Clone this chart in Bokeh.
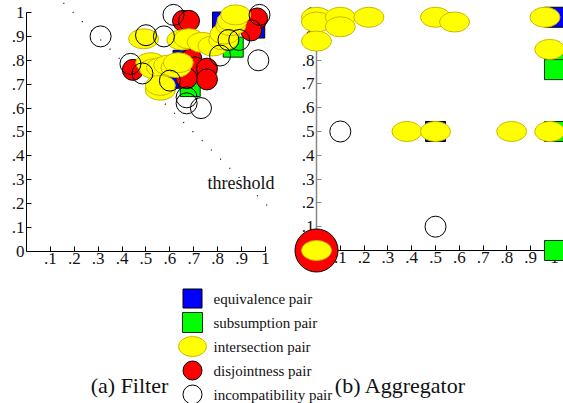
from bokeh.plotting import figure
from bokeh.models import Range1d, LinearAxis, FixedTicker, Label
from bokeh.layouts import column, row
from bokeh.embed import file_html
from bokeh.resources import INLINE

# ---------------- data: (a) Filter ----------------
equiv_a_x = [0.82, 0.955, 0.655, 0.625]
equiv_a_y = [0.96, 0.935, 0.80, 0.725]
subs_a_x = [0.685, 0.865]
subs_a_y = [0.69, 0.855]
inter_a_x = [0.49, 0.52, 0.535, 0.565, 0.595, 0.625, 0.635, 0.56, 0.56, 0.65, 0.68,
             0.735, 0.78, 0.825, 0.83, 0.855, 0.86, 0.875]
inter_a_y = [0.89, 0.79, 0.765, 0.77, 0.78, 0.77, 0.79, 0.675, 0.695, 0.885, 0.89,
             0.875, 0.86, 0.885, 0.91, 0.945, 0.965, 0.99]
disj_a_x = [0.445, 0.655, 0.68, 0.69, 0.705, 0.755, 0.755, 0.67, 0.945, 0.965, 0.94]
disj_a_y = [0.76, 0.965, 0.965, 0.805, 0.77, 0.765, 0.72, 0.725, 0.95, 0.975, 0.925]
incomp_a_x = [0.31, 0.435, 0.485, 0.50, 0.575, 0.615, 0.60, 0.67, 0.67, 0.73, 0.81,
              0.845, 0.89, 0.975, 0.97]
incomp_a_y = [0.90, 0.785, 0.745, 0.905, 0.90, 0.99, 0.715, 0.645, 0.62, 0.60, 0.82,
              0.885, 0.885, 0.99, 0.80]
threshold_x = [0.155, 1.04]
threshold_y = [1.04, 0.16]

# ---------------- data: (b) Aggregator ----------------
equiv_b_x = [1.0, 0.5]
equiv_b_y = [0.98, 0.5]
subs_b_x = [1.0, 1.0, 1.0, 1.0]
subs_b_y = [0.78, 0.76, 0.5, 0.0]
inter_b_x = [0.0, 0.0, 0.1, 0.1, 0.22, 0.0, 0.5, 0.58, 0.96, 0.98, 0.38, 0.5, 0.82, 0.98, 0.0]
inter_b_y = [0.98, 0.96, 0.98, 0.94, 0.98, 0.88, 0.98, 0.96, 0.98, 0.845, 0.5, 0.5, 0.5, 0.5, 0.0]
disj_b_x = [0.0]
disj_b_y = [0.0]
incomp_b_x = [0.1, 0.5]
incomp_b_y = [0.5, 0.1]

tick_vals = [0.0, 0.1, 0.2, 0.3, 0.4, 0.5, 0.6, 0.7, 0.8, 0.9, 1.0]
tick_labels = ["0", ".1", ".2", ".3", ".4", ".5", ".6", ".7", ".8", ".9", "1"]

legend_labels = ["equivalence pair", "subsumption pair", "intersection pair",
                 "disjointness pair", "incompatibility pair"]
legend_rows = [0, 1, 2, 3, 4]
legend_col = [0, 0, 0, 0, 0]
captions = ["(a) Filter", "(b) Aggregator"]

SERIF = "Liberation Serif"
BLUE, GREEN, YELLOW, RED = "#0000ff", "#00ff00", "#ffff00", "#ff0000"
YEL_LINE = "#c9b800"
TOP_H = 283


def make_panel(width, xr, yr, xticks, yticks, yaxis_color):
    p = figure(width=width, height=TOP_H, x_range=Range1d(*xr), y_range=Range1d(*yr),
               output_backend="svg", toolbar_location=None, min_border=0,
               x_axis_location=None, y_axis_location=None, outline_line_color=None)
    p.grid.visible = False
    overrides = dict(zip(tick_vals, tick_labels))
    xa = LinearAxis(fixed_location=0, bounds=(0, 1), ticker=FixedTicker(ticks=xticks),
                    major_label_overrides=overrides, level="underlay")
    ya = LinearAxis(fixed_location=0, bounds=(0, 1), ticker=FixedTicker(ticks=yticks),
                    major_label_overrides=overrides, level="underlay")
    for ax in (xa, ya):
        ax.major_tick_in = 5
        ax.major_tick_out = 0
        ax.minor_tick_line_color = None
        ax.major_label_standoff = 2
        ax.major_label_text_font = SERIF
        ax.major_label_text_font_size = "17px"
        ax.major_label_text_color = "#111111"
        ax.axis_line_color = "black"
        ax.major_tick_line_color = "black"
    ya.axis_line_color = yaxis_color
    ya.axis_line_width = 1.5 if yaxis_color != "black" else 1
    ya.major_tick_line_color = yaxis_color
    p.add_layout(xa, "below")
    p.add_layout(ya, "left")
    return p


def draw_points(p, ex, ey, sx, sy, ix, iy, dx, dy, cx, cy, red_size=21):
    p.scatter(ex, ey, marker="square", size=20, fill_color=BLUE, line_color="black")
    p.scatter(sx, sy, marker="square", size=20, fill_color=GREEN, line_color="#003300")
    p.scatter(dx, dy, marker="circle", size=red_size, fill_color=RED, line_color="black")
    p.ellipse(ix, iy, width=30, height=20, width_units="screen", height_units="screen",
              fill_color=YELLOW, line_color=YEL_LINE, line_width=1)
    p.scatter(cx, cy, marker="circle", size=21, fill_color=None, line_color="black")


# ---------- panel (a) ----------
pa = make_panel(280, (-0.1088, 1.0628), (-0.1339, 1.0502),
                tick_vals[1:], tick_vals, "black")
pa.line(threshold_x, threshold_y, line_color="black", line_dash="1 12", line_width=1.2)
draw_points(pa, equiv_a_x, equiv_a_y, subs_a_x, subs_a_y, inter_a_x, inter_a_y,
            disj_a_x, disj_a_y, incomp_a_x, incomp_a_y)
pa.add_layout(Label(x=0.757, y=0.285, text="threshold", text_font=SERIF,
                    text_font_size="18px", text_baseline="middle", text_color="#111111"))

# ---------- panel (b) ----------
pb = make_panel(283, (-0.1513, 1.0378), (-0.1387, 1.0504),
                tick_vals[1:], tick_vals[1:], "#888888")
draw_points(pb, equiv_b_x, equiv_b_y, subs_b_x, subs_b_y, inter_b_x, inter_b_y,
            disj_b_x, disj_b_y, incomp_b_x, incomp_b_y, red_size=43)

# ---------- bottom: legend + captions ----------
pl = figure(width=563, height=120, x_range=Range1d(-192, 371), y_range=Range1d(4.375, -0.625),
            output_backend="svg", toolbar_location=None, min_border=0,
            x_axis_location=None, y_axis_location=None, outline_line_color=None)
pl.grid.visible = False
pl.scatter(legend_col[0:1], legend_rows[0:1], marker="square", size=19,
           fill_color=BLUE, line_color="black")
pl.scatter(legend_col[1:2], legend_rows[1:2], marker="square", size=20,
           fill_color=GREEN, line_color="#003300")
pl.ellipse(legend_col[2:3], legend_rows[2:3], width=28, height=20, width_units="screen",
           height_units="screen", fill_color=YELLOW, line_color=YEL_LINE)
pl.scatter(legend_col[3:4], legend_rows[3:4], marker="circle", size=19,
           fill_color=RED, line_color="black")
pl.scatter(legend_col[4:5], legend_rows[4:5], marker="circle", size=19,
           fill_color=None, line_color="black")
for lx, ly, lt in zip(legend_col, legend_rows, legend_labels):
    pl.add_layout(Label(x=lx, y=ly, x_offset=21, text=lt, text_baseline="middle",
                        text_align="left", text_font=SERIF, text_font_size="15px",
                        text_color="#111111"))
pl.add_layout(Label(x=129, y=18, x_units="screen", y_units="screen", text=captions[0],
                    text_font=SERIF, text_font_size="22px", text_align="center",
                    text_baseline="alphabetic", text_color="#111111"))
pl.add_layout(Label(x=400, y=18, x_units="screen", y_units="screen", text=captions[1],
                    text_font=SERIF, text_font_size="22px", text_align="center",
                    text_baseline="alphabetic", text_color="#111111"))

layout = column(row(pa, pb), pl)
open("out.html", "w").write(file_html(layout, INLINE))
